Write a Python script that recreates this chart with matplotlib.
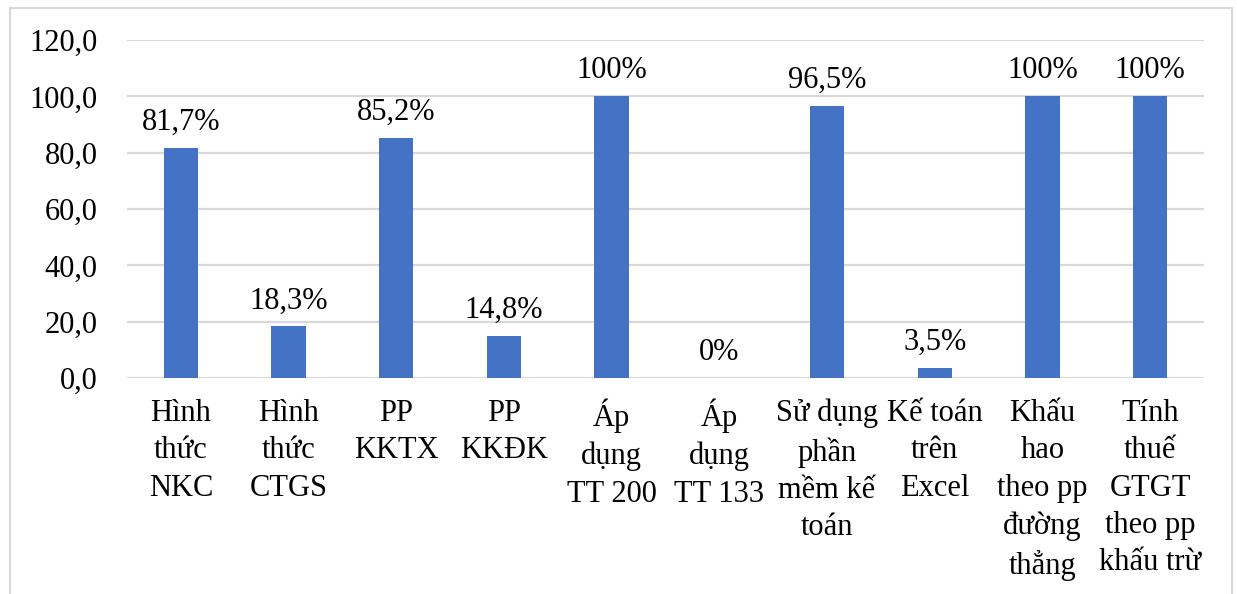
import matplotlib
matplotlib.use("Agg")
import matplotlib.pyplot as plt
from matplotlib.lines import Line2D

categories = ["Hình\nthức\nNKC", "Hình\nthức\nCTGS", "PP\nKKTX", "PP\nKKĐK",
              "Áp\ndụng\nTT 200", "Áp\ndụng\nTT 133", "Sử dụng\nphần\nmềm kế\ntoán",
              "Kế toán\ntrên\nExcel", "Khấu\nhao\ntheo pp\nđường\nthẳng",
              "Tính\nthuế\nGTGT\ntheo pp\nkhấu trừ"]
values = [81.7, 18.3, 85.2, 14.8, 100, 0, 96.5, 3.5, 100, 100]
value_labels = ["81,7%", "18,3%", "85,2%", "14,8%", "100%", "0%",
                "96,5%", "3,5%", "100%", "100%"]
yticks = [0, 20, 40, 60, 80, 100, 120]
ytick_labels = ["0,0", "20,0", "40,0", "60,0", "80,0", "100,0", "120,0"]

plt.rcParams['font.family'] = ['Liberation Serif', 'DejaVu Serif']
FS = 22

fig = plt.figure(figsize=(12.37, 5.94), dpi=100)
ax = fig.add_axes([127 / 1237, 1 - 378 / 594, (1204 - 127) / 1237, (378 - 40) / 594])

x = list(range(len(values)))
bars = ax.bar(x, values, width=0.32, color="#4472C4", zorder=3)

for xi, v, lab in zip(x, values, value_labels):
    ax.annotate(lab, (xi, v), xytext=(0, 8), textcoords="offset points",
                ha="center", va="bottom", fontsize=FS, color="#000000")

ax.set_xlim(-0.5, len(values) - 0.5)
ax.set_ylim(0, 120)
ax.set_yticks(yticks)
ax.set_yticklabels(ytick_labels, fontsize=FS)
ax.set_xticks(x)
ax.set_xticklabels(categories, fontsize=FS, linespacing=1.38, va="top")
ax.tick_params(axis="y", length=0, pad=21)
ax.tick_params(axis="x", length=0, pad=15)
ax.grid(axis="y", color="#D9D9D9", linewidth=1.6, zorder=0)
for s in ax.spines.values():
    s.set_visible(False)

# outer chart frame (partly cropped)
fy = 1 - 8 / 594
fx0, fx1 = 10 / 1237, 1232 / 1237
for xs, ys in [([fx0, fx1], [fy, fy]), ([fx0, fx0], [fy, -0.1]), ([fx1, fx1], [fy, -0.1])]:
    fig.add_artist(Line2D(xs, ys, transform=fig.transFigure, color="#D9D9D9", linewidth=1.5))

fig.savefig("out.png", dpi=100)
